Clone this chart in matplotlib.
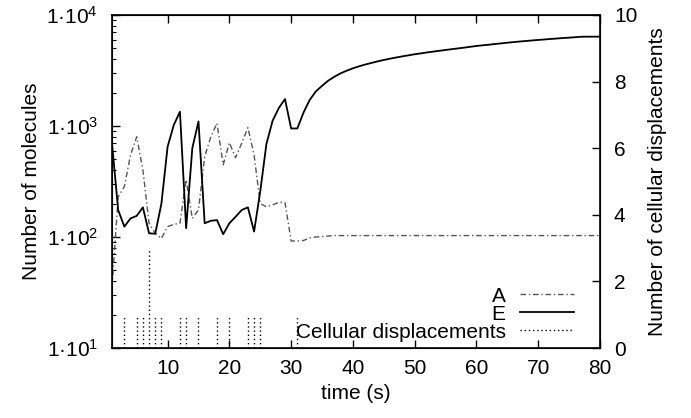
import math
import matplotlib
matplotlib.use("Agg")
import matplotlib.pyplot as plt
from matplotlib.lines import Line2D
from matplotlib.ticker import FixedLocator, LogLocator, NullFormatter, FuncFormatter

plt.rcParams['font.family'] = ['Liberation Sans', 'DejaVu Sans']
plt.rcParams['mathtext.fontset'] = 'custom'
plt.rcParams['mathtext.rm'] = 'Liberation Sans'
plt.rcParams['font.size'] = 15

# ---- data ----
time = list(range(1, 81))
E_values = [700, 175, 124, 147, 155, 185, 108, 107, 200, 650,
            1020, 1345, 120, 630, 1100, 133, 140, 142, 106, 133,
            152, 175, 185, 112, 258, 690, 1115, 1450, 1750, 950,
            950, 1320, 1715, 2050, 2300, 2560, 2780, 2980, 3150, 3310,
            3450, 3580, 3700, 3820, 3935, 4040, 4140, 4240, 4335, 4430,
            4510, 4600, 4680, 4760, 4840, 4920, 5000, 5080, 5170, 5260,
            5330, 5400, 5480, 5550, 5630, 5700, 5770, 5830, 5900, 5960,
            6020, 6080, 6140, 6200, 6250, 6310, 6370, 6380, 6380, 6380]
A_values = [35, 230, 284, 548, 800, 402, 133, 108, 97, 124,
            130, 133, 327, 147, 175, 529, 800, 1057, 446, 708,
            518, 700, 966, 548, 200, 187, 195, 205, 205, 92,
            92, 93, 98, 100, 101, 102, 103, 103, 103, 103] + [103] * 40
disp_times = [3, 5, 6, 7, 8, 9, 12, 13, 15, 18, 20, 23, 24, 25, 31]
disp_counts = [1, 1, 1, 3, 1, 1, 1, 1, 1, 1, 1, 1, 1, 1, 1]
x_ticks = [10, 20, 30, 40, 50, 60, 70, 80]
y2_ticks = [0, 2, 4, 6, 8, 10]

fig = plt.figure(figsize=(6.91, 4.18), dpi=100)
ax = fig.add_axes([112 / 691, 1 - 348 / 418, (600 - 112) / 691, (348 - 15) / 418])
ax.set_yscale('log')
ax.set_xlim(1, 80)
ax.set_ylim(10, 1e4)

ax.plot(time, A_values, color='#555555', lw=1.0, dashes=(4, 2, 1, 2))
ax.plot(time, E_values, color='black', lw=1.3)

ax.set_xticks(x_ticks)
ax.yaxis.set_major_locator(FixedLocator([10, 100, 1000, 10000]))
ax.yaxis.set_major_formatter(FuncFormatter(
    lambda v, p: r'$\mathregular{1·10^{%d}}$' % round(math.log10(v))))
ax.yaxis.set_minor_locator(LogLocator(base=10, subs=range(2, 10)))
ax.yaxis.set_minor_formatter(NullFormatter())
ax.tick_params(axis='both', which='major', direction='in', length=6, width=1,
               top=True, right=True, labelsize=15)
ax.tick_params(axis='y', which='major', pad=10)
ax.tick_params(axis='y', which='minor', direction='in', length=3, width=0.8, right=True)
ax.tick_params(axis='x', which='major', pad=8)
ax.set_xlabel('time (s)', fontsize=15, labelpad=4)
ax.set_ylabel('Number of molecules', fontsize=15, labelpad=4)
for s in ax.spines.values():
    s.set_linewidth(1.2)

ax2 = ax.twinx()
ax2.set_ylim(0, 10)
ax2.set_yticks(y2_ticks)
ax2.tick_params(axis='y', direction='in', length=6, width=1, labelsize=15, pad=10)
ax2.vlines(disp_times, 0, disp_counts, colors='black', linestyles=(0, (1, 2)), lw=1.0)
ax2.set_ylabel('Number of cellular displacements', fontsize=15, labelpad=8)

handles = [Line2D([], [], color='#555555', lw=1.0, dashes=(4, 2, 1, 2)),
           Line2D([], [], color='black', lw=1.3),
           Line2D([], [], color='black', lw=1.0, linestyle=(0, (1, 2)))]
labels = ['A', 'E', 'Cellular displacements']
ax2.legend(handles, labels, loc='lower right', markerfirst=False, frameon=False,
           fontsize=15, handlelength=2.6, handletextpad=0.7, labelspacing=-0.05,
           borderaxespad=0.0, borderpad=0.2, bbox_to_anchor=(0.956, 0.007))

fig.savefig('out.png', dpi=100)
